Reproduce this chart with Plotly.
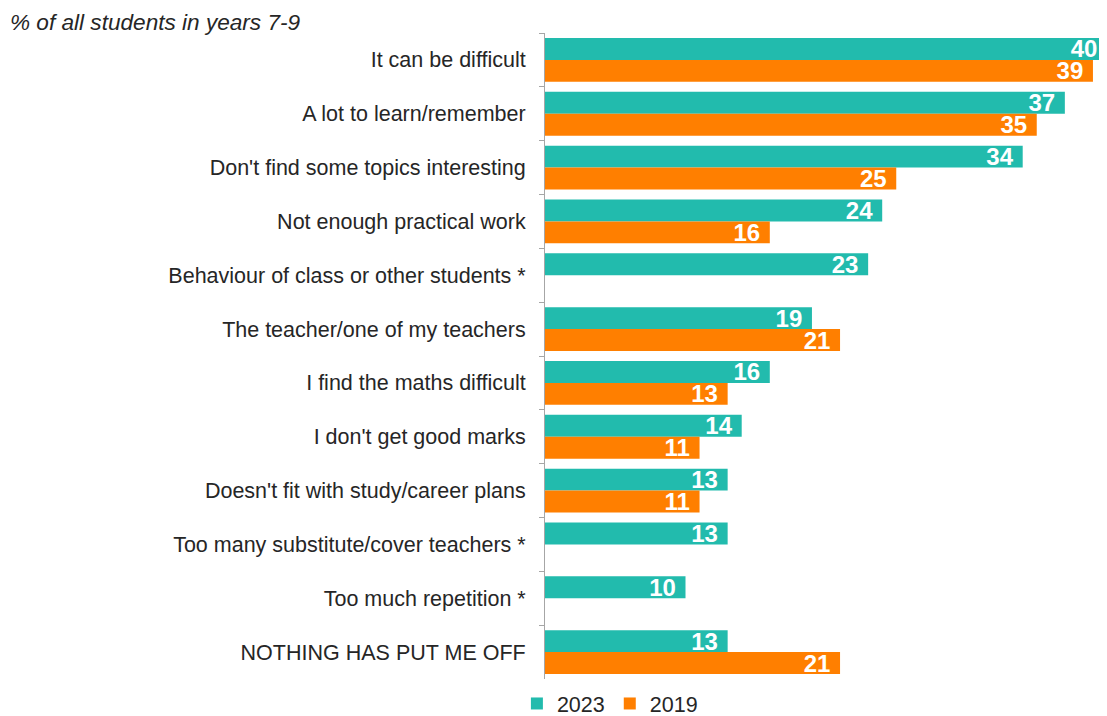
import plotly.graph_objects as go

categories = [
    "It can be difficult",
    "A lot to learn/remember",
    "Don't find some topics interesting",
    "Not enough practical work",
    "Behaviour of class or other students *",
    "The teacher/one of my teachers",
    "I find the maths difficult",
    "I don't get good marks",
    "Doesn't fit with study/career plans",
    "Too many substitute/cover teachers *",
    "Too much repetition *",
    "NOTHING HAS PUT ME OFF",
]
values_2023 = [40, 37, 34, 24, 23, 19, 16, 14, 13, 13, 10, 13]
values_2019 = [39, 35, 25, 16, None, 21, 13, 11, 11, None, None, 21]

TEAL = "#22BBAD"
ORANGE = "#FF7F00"
FONT = "Liberation Sans, Arial, sans-serif"
TXT = "#262626"

# page has an 8px body margin; figure is offset by 8px
W, H = 1099, 716

fig = go.Figure()
for name, vals, col in [("2023", values_2023, TEAL), ("2019", values_2019, ORANGE)]:
    fig.add_trace(go.Bar(
        name=name, y=categories, x=vals, orientation="h",
        marker=dict(color=col, line=dict(width=0)),
        texttemplate="%{x}\u00a0", textposition="inside", insidetextanchor="end",
        textangle=0, constraintext="none",
        textfont=dict(family=FONT, size=24, color="white", weight="bold"),
        hoverinfo="skip",
    ))

fig.update_layout(
    width=W, height=H,
    margin=dict(l=537, r=0, t=25, b=44),
    paper_bgcolor="white", plot_bgcolor="white",
    barmode="group", bargap=0.185, bargroupgap=0,
    font=dict(family=FONT, size=21.5, color=TXT),
    title=dict(text="% of all students in years 7-9", x=2/W, xanchor="left",
               xref="container", yref="container", y=1-14/H, yanchor="middle",
               font=dict(family=FONT, size=22.6, color=TXT, style="italic")),
    legend=dict(orientation="h", x=-0.05, xanchor="left", y=-0.0386, yanchor="middle",
                font=dict(family=FONT, size=21.5, color=TXT), traceorder="normal",
                itemwidth=30, bgcolor="rgba(0,0,0,0)"),
    showlegend=True,
)
fig.update_yaxes(autorange="reversed", type="category", showline=True, linecolor="#A6A6A6",
                 linewidth=1, ticks="outside", ticklen=5, tickcolor="#A6A6A6",
                 tickson="boundaries", showgrid=False, ticklabelstandoff=14,
                 tickfont=dict(family=FONT, size=21.5, color=TXT))
fig.update_xaxes(range=[0, 40], visible=False, showgrid=False, zeroline=False)

fig.write_html("out.html")
